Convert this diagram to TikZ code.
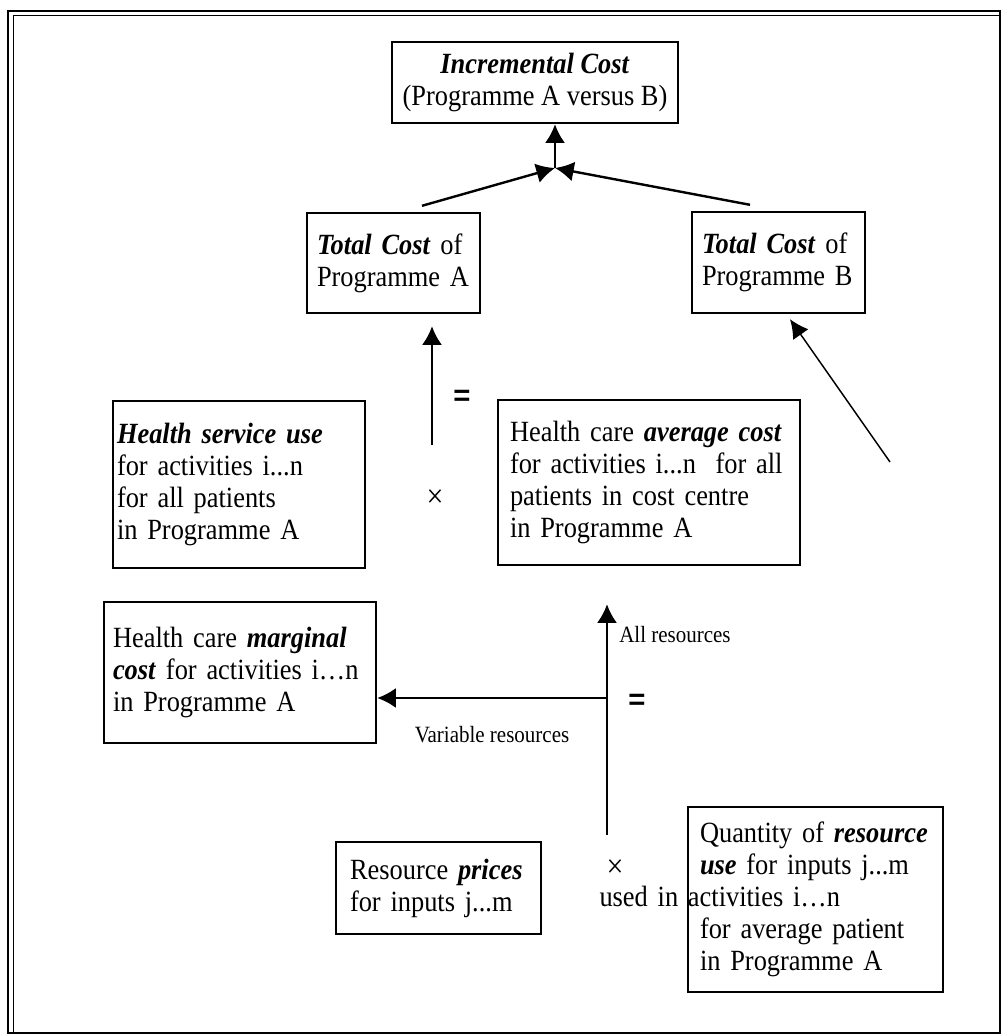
\documentclass[tikz,border=0pt]{standalone}
\usepackage{fontspec}
\setmainfont{Liberation Serif}[FakeStretch=0.9]
\setsansfont{Liberation Sans}
\usetikzlibrary{arrows.meta,calc}
\newcommand{\bfi}[1]{\textbf{\textit{#1}}}
\begin{document}
\begin{tikzpicture}[x=0.75pt,y=-0.75pt,
  box/.style={draw, line width=1.8pt, rectangle, inner ysep=0pt, align=left,
    font=\fontsize{22}{24}\selectfont},
  arr/.style={line width=1.8pt, -{Latex[length=14pt,width=15pt]}},
  arrthin/.style={line width=1.1pt, -{Latex[length=14pt,width=14pt]}},
  lbl/.style={font=\fontsize{17.5}{19}\selectfont, inner sep=0pt},
  sym/.style={font=\fontsize{25}{26}\selectfont, inner sep=0pt, text height=10pt, text depth=0pt},
  eqs/.style={font=\fontsize{22}{24}\sffamily\bfseries, inner sep=0pt}]
\useasboundingbox (0,0) rectangle (1002,1035);
% frame
\draw[line width=2pt] (8,11) rectangle (1000,1033);
\draw[line width=1.2pt] (13.5,1033) -- (13.5,15.5) -- (1000,15.5);
% boxes
\node[box, align=center, inner xsep=0pt, minimum width=214.5pt, minimum height=60.75pt] (inc) at (535,82.5)
  {\bfi{Incremental Cost}\\(Programme A versus B)};
\node[box, inner xsep=7.5pt, text width=114.75pt, minimum width=129.75pt, minimum height=75pt] (A) at (393.5,263)
  {\bfi{Total Cost} of\\Programme A};
\node[box, inner xsep=7.5pt, text width=114.75pt, minimum width=129.75pt, minimum height=75.75pt] (B) at (778.5,262.5)
  {\bfi{Total Cost} of\\Programme B};
\node[box, inner xsep=3pt, text width=183pt, minimum width=189pt, minimum height=125.25pt] (hsu) at (239,484.5)
  {\bfi{Health service use}\\for activities i...n\\for all patients\\in Programme A};
\node[box, inner xsep=9pt, text width=208.5pt, minimum width=226.5pt, minimum height=123.75pt] (avg) at (649,482.5)
  {Health care \bfi{average cost}\\for activities i...n\ \ for all\\patients in cost centre\\in Programme A};
\node[box, inner xsep=6.75pt, text width=190.5pt, minimum width=204pt, minimum height=105.75pt] (marg) at (240,672.5)
  {Health care \bfi{marginal}\\\bfi{cost} for activities i…n\\in Programme A};
\node[box, inner xsep=10.5pt, text width=132.75pt, minimum width=153.75pt, minimum height=69pt] (price) at (438.5,888)
  {Resource \bfi{prices}\\for inputs j...m};
\node[box, inner xsep=9pt, text width=173.25pt, minimum width=191.25pt, minimum height=138.75pt] (qty) at (815.5,899.5)
  {Quantity of \bfi{resource}\\\bfi{use} for inputs j...m\\\hspace*{-9pt}\llap{used in\ }activities i…n\\for average patient\\in Programme A};
% connectors
\coordinate (J) at (555,168);
\draw[arr] (J) -- (J |- inc.south);
\draw[arr] ([shift={(28.5,-6)}]A.north) -- (J);
\draw[arr] ([shift={(-28.5,-6)}]B.north) -- (J);
\coordinate (a1) at (432,445);
\draw[arr] (a1) -- ($(a1 |- A.south)+(0,12)$);
\coordinate (d1) at (890,462);
\draw[arrthin] (d1) -- ([shift={(11.5,5)}]B.south);
\coordinate (v1) at (607,835);
\draw[arr] (v1) -- ($(v1 |- avg.south)+(0,38)$);
\coordinate (h1) at (607,698);
\draw[arr] (h1) -- (h1 -| marg.east);
% labels and symbols
\node[lbl, anchor=west] (allres) at (619,635) {All resources};
\node[lbl] (varres) at (492,735) {Variable resources};
\node[eqs] (eq1) at (462,398) {=};
\node[sym] (x1) at (435,501) {×};
\node[eqs] (eq2) at (637,702) {=};
\node[sym] (x2) at (615,871) {×};
\end{tikzpicture}
\end{document}
